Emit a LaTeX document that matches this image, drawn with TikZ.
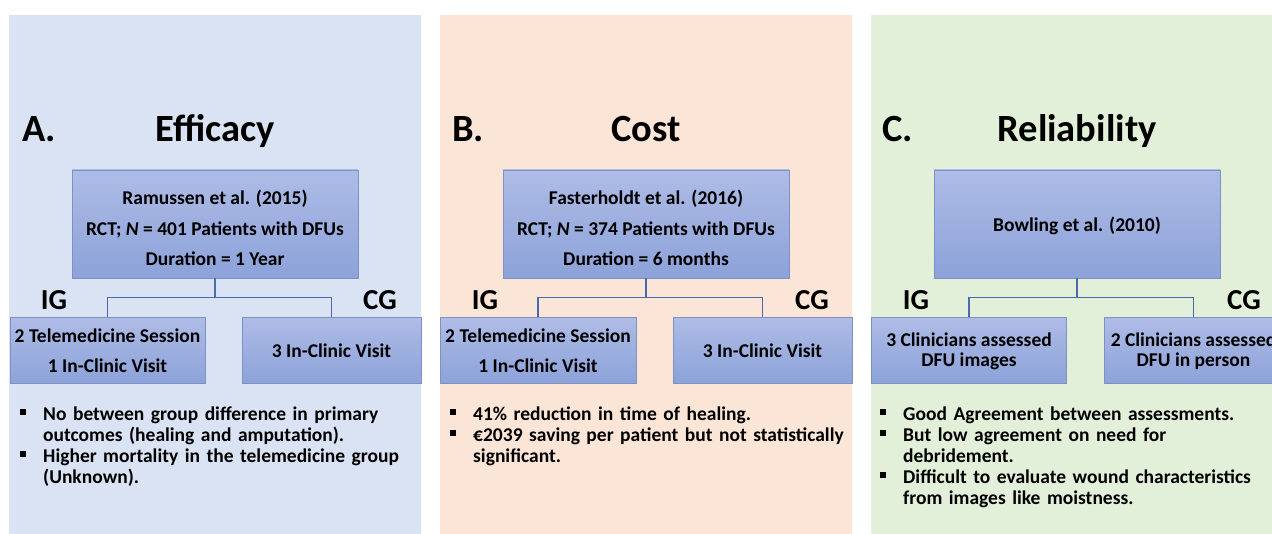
\documentclass[tikz,border=0pt]{standalone}
\usepackage{fontspec}
\setmainfont{Carlito}
\definecolor{panelA}{HTML}{DAE3F3}
\definecolor{panelB}{HTML}{FBE5D6}
\definecolor{panelC}{HTML}{E2F0D9}
\definecolor{boxtop}{HTML}{AEBCE6}
\definecolor{boxbot}{HTML}{8CA2D9}
\definecolor{boxedge}{HTML}{7F91C2}
\definecolor{linkcol}{HTML}{4A6AAE}
\tikzset{
  studybox/.style={draw=boxedge, line width=0.8pt, top color=boxtop, bottom color=boxbot,
    minimum width=286pt, minimum height=108pt, inner sep=0pt},
  armbox/.style={draw=boxedge, line width=0.8pt, top color=boxtop, bottom color=boxbot,
    minimum height=66pt, inner sep=0pt},
  boxtext/.style={inner sep=0pt, align=center,
    font=\fontsize{19.5}{30.5}\selectfont\bfseries},
  tighttext/.style={boxtext, font=\fontsize{19.5}{20}\selectfont\bfseries},
  link/.style={draw=linkcol, line width=1.5pt},
  heading/.style={anchor=base, inner sep=0pt, font=\fontsize{38.5}{40}\selectfont\bfseries},
  group/.style={anchor=base, inner sep=0pt, font=\fontsize{29}{30}\selectfont\bfseries},
  notes/.style={anchor=north west, inner sep=0pt, align=left, text width=420pt,
    font=\fontsize{19.5}{21}\selectfont\bfseries},
}
% square-bulleted, ragged-right paragraph with hanging indent
\newcommand{\pointitem}[1]{\par\noindent\rightskip=0pt plus 1fil\hangindent=23pt\hangafter=1
  \makebox[23pt][l]{\rule[5pt]{6pt}{6pt}}#1\par}
\newcommand{\wrapline}{\hfil\break}
\begin{document}
\begin{tikzpicture}[x=1pt,y=-1pt]
\useasboundingbox (0,0) rectangle (1272,534);
% panel backgrounds
\fill[white] (0,0) rectangle (1272,534);
\fill[panelA] (9,15) rectangle (421,534);
\fill[panelB] (440,15) rectangle (852,534);
\fill[panelC] (871,15) rectangle (1290,534);

% headings
\node[heading, anchor=base west] (la) at (22,142) {A.};
\node[heading] (ta) at (215,142) {Efficacy};
\node[heading, anchor=base west] (lb) at (452,142) {B.};
\node[heading] (tb) at (646,142) {Cost};
\node[heading, anchor=base west] (lc) at (882,142) {C.};
\node[heading] (tc) at (1077,142) {Reliability};

% ---- A: efficacy ----
\node[studybox] (sa) at (215,224) {};
\node[boxtext] (sat) at (215,228) {Ramussen et al. (2015)\\RCT; \textit{N} = 401 Patients with DFUs\\Duration = 1 Year};
\node[armbox, minimum width=195pt] (ia) at (107.5,350.5) {};
\node[boxtext] (iat) at (107.5,350.5) {2 Telemedicine Session\\1 In-Clinic Visit};
\node[armbox, minimum width=179pt] (ca) at (331.5,350.5) {};
\node[boxtext] (cat) at (331.5,350.5) {3 In-Clinic Visit};
\coordinate (ja) at (215,297.5);
\draw[link] (sa.south) -- (ja);
\draw[link] (ia.north) |- (ja) -| (ca.north);
\node[group] (iga) at (54,310) {IG};
\node[group] (cga) at (380,310) {CG};
\node[notes] (na) at (20,399) {%
  \pointitem{No between group difference in primary\wrapline outcomes (healing and amputation).}
  \pointitem{Higher mortality in the telemedicine group\wrapline (Unknown).}};

% ---- B: cost ----
\node[studybox] (sb) at (646,224) {};
\node[boxtext] (sbt) at (646,228) {Fasterholdt et al. (2016)\\RCT; \textit{N} = 374 Patients with DFUs\\Duration = 6 months};
\node[armbox, minimum width=196pt] (ib) at (538,350.5) {};
\node[boxtext] (ibt) at (538,350.5) {2 Telemedicine Session\\1 In-Clinic Visit};
\node[armbox, minimum width=179pt] (cb) at (762.5,350.5) {};
\node[boxtext] (cbt) at (762.5,350.5) {3 In-Clinic Visit};
\coordinate (jb) at (646,297.5);
\draw[link] (sb.south) -- (jb);
\draw[link] (ib.north) |- (jb) -| (cb.north);
\node[group] (igb) at (485,310) {IG};
\node[group] (cgb) at (812,310) {CG};
\node[notes] (nb) at (450,399) {%
  \pointitem{41\% reduction in time of healing.}
  \pointitem{€2039 saving per patient but not statistically\wrapline significant.}};

% ---- C: reliability ----
\node[studybox] (sc) at (1077,224) {};
\node[boxtext] (sct) at (1077,226) {Bowling et al. (2010)};
\node[armbox, minimum width=195pt] (ic) at (969,350.5) {};
\node[tighttext] (ict) at (969,351) {3 Clinicians assessed\\DFU images};
\node[armbox, minimum width=179pt] (cc) at (1193.5,350.5) {};
\node[tighttext] (cct) at (1193.5,351) {2 Clinicians assessed\\DFU in person};
\coordinate (jc) at (1077,297.5);
\draw[link] (sc.south) -- (jc);
\draw[link] (ic.north) |- (jc) -| (cc.north);
\node[group] (igc) at (916,310) {IG};
\node[group] (cgc) at (1244,310) {CG};
\node[notes] (nc) at (880,399) {%
  \pointitem{Good Agreement between assessments.}
  \pointitem{But low agreement on need for\wrapline debridement.}
  \pointitem{Difficult to evaluate wound characteristics\wrapline from images like moistness.}};
\end{tikzpicture}
\end{document}
